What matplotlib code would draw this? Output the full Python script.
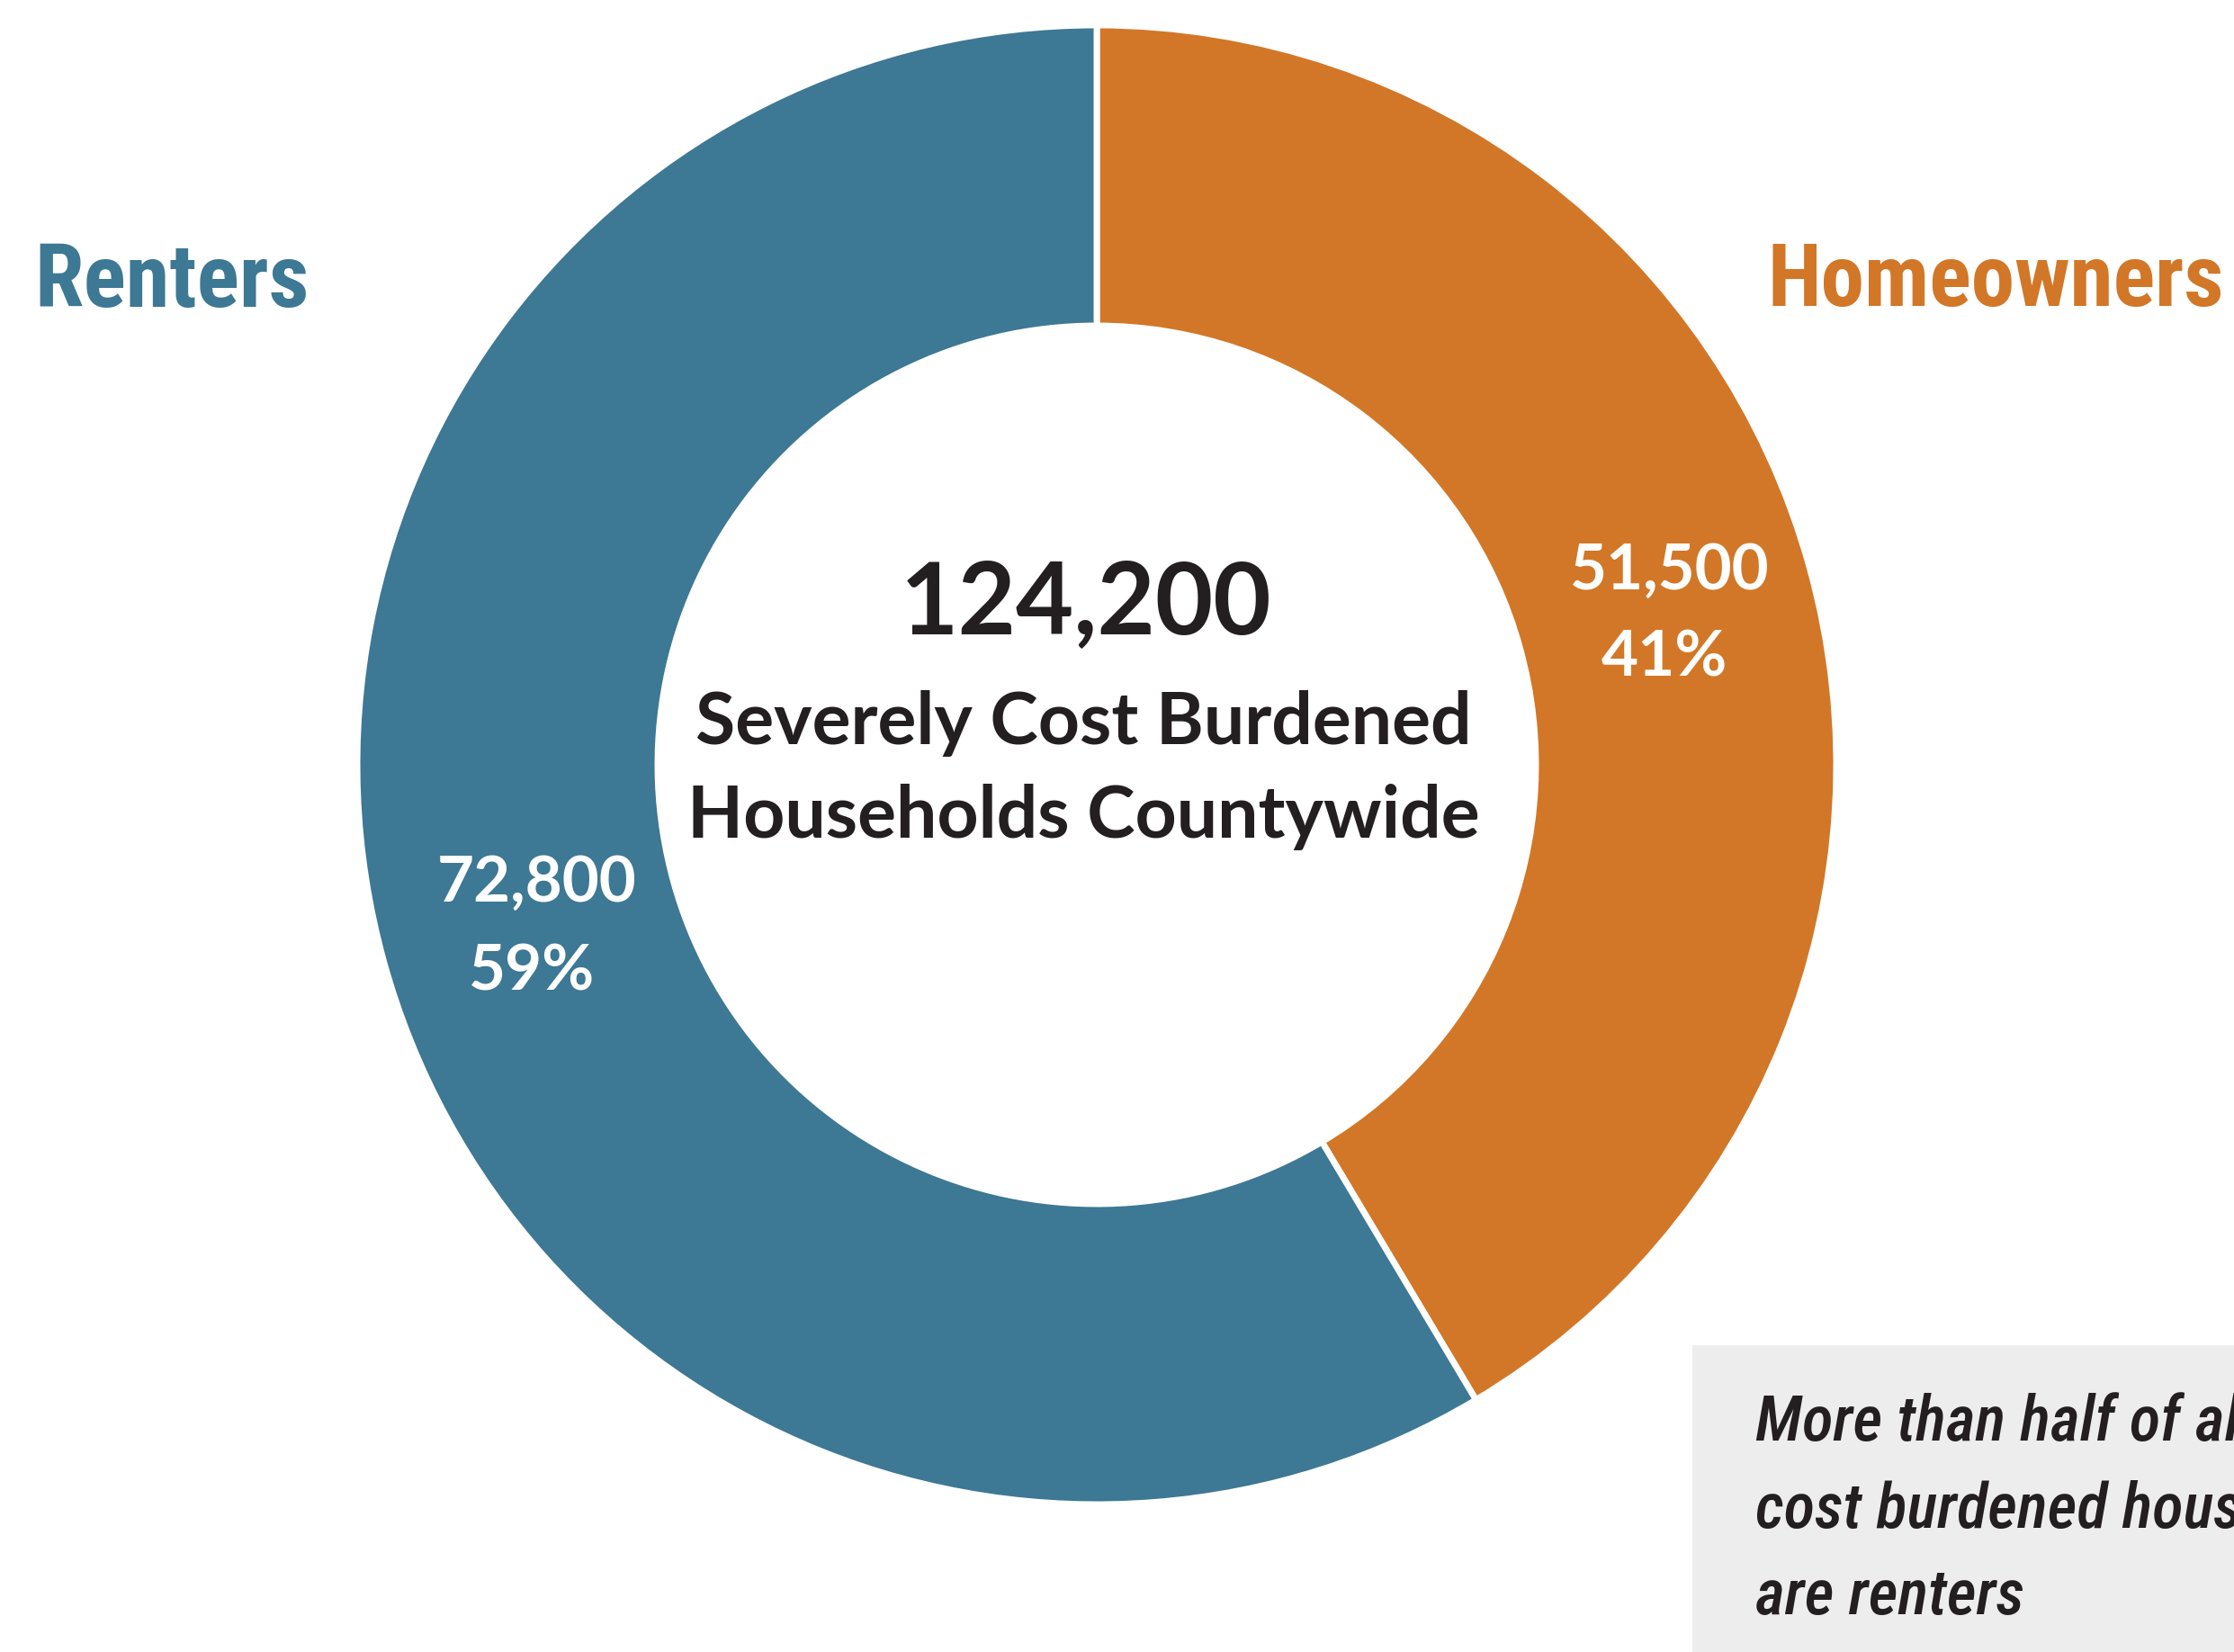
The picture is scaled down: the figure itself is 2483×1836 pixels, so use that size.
import matplotlib.pyplot as plt
from matplotlib.patches import Rectangle

# data
categories = ["Homeowners", "Renters"]
households = [51500, 72800]
total_label = "124,200"
subtitle = "Severely Cost Burdened\nHouseholds Countywide"
note = "More than half of all\ncost burdened households\nare renters"

colors = ["#D27727", "#3D7894"]

W, H = 2483, 1836


def py(y):
    # pixel row (from top) -> data y
    return H - y


fig = plt.figure(figsize=(W / 100, H / 100), dpi=100)
ax = fig.add_axes([0, 0, 1, 1])

cx, cy = 1219, py(850)
r_out = 822
width = 334

wedges, _ = ax.pie(households, colors=colors, startangle=90, counterclock=False,
                   center=(cx, cy), radius=r_out, frame=True,
                   wedgeprops=dict(width=width, edgecolor="white", linewidth=5))
ax.set_xlim(0, W)
ax.set_ylim(0, H)
ax.set_aspect("equal")
ax.axis("off")

total = sum(households)
pcts = [f"{round(v / total * 100):.0f}%" for v in households]

cond = ["Roboto Condensed", "DejaVu Sans"]
body = ["Lato", "DejaVu Sans"]

# category labels
ax.text(38, py(314), categories[1], color=colors[1], fontsize=71, fontweight="bold",
        family=cond, fontstretch="condensed", ha="left", va="center")
ax.text(2472, py(314), categories[0], color=colors[0], fontsize=70, fontweight="bold",
        family=cond, fontstretch="condensed", ha="right", va="center")

# center text
ax.text(1207, py(672), total_label, fontsize=80, fontweight="bold", family=body,
        color="#231F20", ha="center", va="center")
ax.text(1204, py(856), subtitle, fontsize=58, fontweight="bold", family=body,
        color="#231F20", ha="center", va="center", linespacing=1.5)

# wedge value labels
label_pos = [(1856, 634, 731), (597, 981, 1080)]
for v, p, (x, y1, y2) in zip(households, pcts, label_pos):
    ax.text(x, py(y1), f"{v:,}", fontsize=51, fontweight="bold", family=body,
            color="white", ha="center", va="center")
    ax.text(x - 6, py(y2), p, fontsize=51, fontweight="bold", family=body,
            color="white", ha="center", va="center")

# note box
ax.add_patch(Rectangle((1881, 0), W - 1881, py(1495), facecolor="#EDEDED",
                       edgecolor="none", zorder=1))
ax.text(1951, py(1548), note, fontsize=51, style="oblique", fontweight="medium",
        family=cond, fontstretch="condensed", color="#231F20", ha="left", va="top",
        linespacing=1.55, zorder=2, clip_on=True)

fig.savefig("out.png", dpi=100)
